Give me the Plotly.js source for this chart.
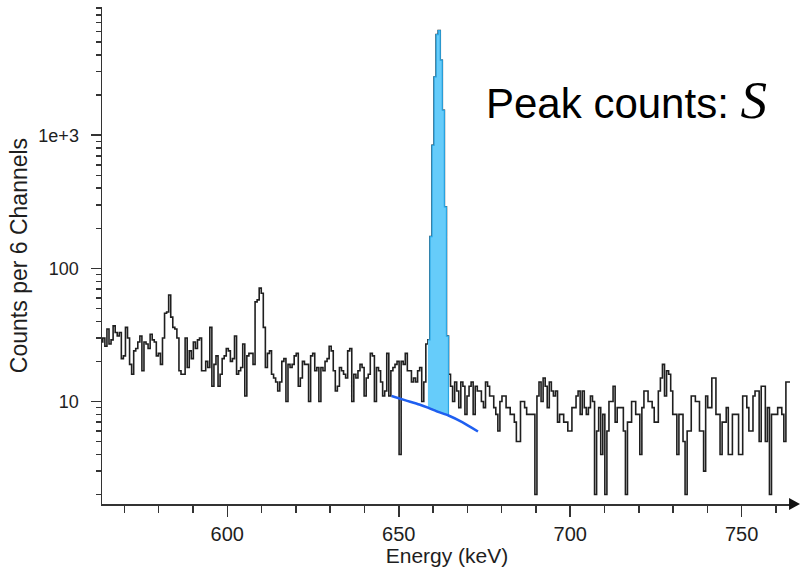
<!DOCTYPE html>
<html>
<head>
<meta charset="utf-8">
<script src="https://cdn.plot.ly/plotly-3.0.1.min.js"></script>
<style>
  html, body { margin: 0; padding: 0; background: #ffffff; }
  #chart { width: 801px; height: 571px; }
</style>
</head>
<body>
<div id="chart"></div>
<script>
// ---- data -------------------------------------------------------------
// histogram: first bin left edge (keV) and bin width (keV)
const binStart = 563.1;
const binWidth = 0.6;
// counts per 6 channels, one value per bin
const counts = [
  28, 30, 26, 35, 27, 29, 37, 33, 31, 33,
  21, 22, 36, 30, 19, 16, 24, 25, 28, 31,
  17, 28, 27, 25, 32, 29, 28, 22, 23, 19,
  30, 46, 47, 63, 43, 36, 35, 30, 17, 16,
  16, 30, 18, 24, 21, 28, 25, 29, 30, 17,
  17, 20, 18, 36, 13, 19, 22, 13, 16, 21,
  22, 25, 24, 20, 21, 31, 16, 17, 18, 27,
  11, 22, 23, 23, 19, 56, 58, 71, 65, 36,
  18, 23, 24, 16, 15, 14, 12, 14, 20, 21,
  10, 19, 18, 19, 22, 23, 13, 15, 20, 19,
  19, 10, 22, 23, 17, 18, 10, 18, 17, 20,
  21, 26, 24, 17, 12, 13, 18, 17, 16, 15,
  24, 25, 10, 16, 15, 17, 19, 18, 11, 15,
  16, 23, 22, 10, 18, 17, 14, 11, 12, 23,
  11, 17, 18, 19, 20, 4, 20, 19, 23, 17,
  17, 14, 15, 14, 17, 18, 10, 14, 27, 29,
  173, 840, 2740, 5700, 6100, 3660, 1540, 290, 31, 16,
  13, 10, 14, 12, 9, 14, 13, 8, 11, 13,
  14, 8, 13, 12, 12, 10, 9, 14, 13, 11,
  11, 9, 8, 6, 10, 11, 11, 9, 9, 8,
  8, 7, 5, 5, 10, 10, 9, 8, 8, 8,
  8, 2, 11, 14, 10, 15, 13, 9, 14, 12,
  11, 12, 7, 8, 8, 7, 7, 6, 6, 9,
  9, 11, 12, 8, 12, 9, 8, 9, 11, 10,
  2, 6, 9, 4, 8, 2, 6, 10, 10, 13,
  7, 9, 9, 9, 6, 2, 7, 7, 10, 10,
  8, 8, 4, 9, 12, 12, 10, 10, 9, 7,
  7, 12, 15, 19, 11, 17, 16, 12, 8, 8,
  4, 8, 8, 5, 2, 6, 6, 11, 11, 10,
  10, 6, 6, 3, 11, 9, 9, 15, 15, 8,
  8, 4, 7, 7, 9, 4, 4, 8, 8, 8,
  4, 4, 11, 11, 9, 6, 6, 11, 12, 12,
  5, 13, 13, 5, 9, 2, 8, 8, 8, 9,
  9, 8, 5, 14, 14
];
// fitted background under the peak
const bgEnergy = [647.9, 652.0, 656.0, 658.5, 661.5, 664.5, 668.5, 673.1];
const bgCounts = [11.0, 10.2, 9.5, 9.0, 8.35, 7.85, 7.0, 5.95];
// peak region (keV)
const peakLo = 658.5;
const peakHi = 664.5;
// ticks
const xTickVals = [600, 650, 700, 750];
const xTickText = ['600', '650', '700', '750'];
const xMinorVals = [570, 580, 590, 610, 620, 630, 640, 660, 670, 680, 690, 710, 720, 730, 740, 760];
const yTickVals = [10, 100, 1000];
const yTickText = ['10', '100', '1e+3'];
const yMinorVals = [2, 3, 4, 5, 6, 7, 8, 9, 20, 30, 40, 50, 60, 70, 80, 90,
                    200, 300, 400, 500, 600, 700, 800, 900, 2000, 3000, 4000, 5000, 6000, 7000, 8000, 9000];
const annotationText = 'Peak counts: ';
const annotationSymbol = 'S';

// ---- build traces -----------------------------------------------------
const edges = [];
for (let i = 0; i <= counts.length; i++) edges.push(+(binStart + i * binWidth).toFixed(4));

const histX = edges.slice();
const histY = counts.concat([counts[counts.length - 1]]);

const eps = 1e-6;
const fillX = [], fillY = [];
for (let i = 0; i < counts.length; i++) {
  if (edges[i] >= peakLo - eps && edges[i + 1] <= peakHi + eps) {
    fillX.push(edges[i], edges[i + 1]);
    fillY.push(counts[i], counts[i]);
  }
}
for (let j = bgEnergy.length - 1; j >= 0; j--) {
  if (bgEnergy[j] >= peakLo - eps && bgEnergy[j] <= peakHi + eps) {
    fillX.push(bgEnergy[j]);
    fillY.push(bgCounts[j]);
  }
}

const AX = '#333333';
const TXT = '#1e1e1e';
const FONT = 'Liberation Sans, Arial, sans-serif';

const traces = [
  {
    x: histX, y: histY, type: 'scatter', mode: 'lines',
    line: { shape: 'hv', color: '#1f1f1f', width: 1.6 },
    hoverinfo: 'skip', showlegend: false
  },
  {
    x: fillX, y: fillY, type: 'scatter', mode: 'lines',
    fill: 'toself', fillcolor: '#66ccfa',
    line: { color: '#2aa6e4', width: 1.2 },
    hoverinfo: 'skip', showlegend: false
  },
  {
    x: bgEnergy, y: bgCounts, type: 'scatter', mode: 'lines',
    line: { color: '#1f5ff0', width: 2.5, shape: 'spline', smoothing: 0.6 },
    hoverinfo: 'skip', showlegend: false
  }
];

const layout = {
  width: 801, height: 571,
  margin: { l: 102, r: 9, t: 7, b: 67 },
  paper_bgcolor: '#ffffff', plot_bgcolor: '#ffffff',
  showlegend: false,
  font: { family: FONT, color: TXT },
  xaxis: {
    range: [563.46, 764.68],
    showline: true, linecolor: AX, linewidth: 1.5,
    showgrid: false, zeroline: false,
    ticks: 'outside', ticklen: 11, tickwidth: 1.5, tickcolor: AX,
    tickmode: 'array', tickvals: xTickVals, ticktext: xTickText,
    minor: { tickmode: 'array', tickvals: xMinorVals, ticks: 'outside', ticklen: 7, tickwidth: 1.5, tickcolor: AX, showgrid: false },
    tickfont: { family: FONT, size: 20, color: TXT },
    title: { text: 'Energy (keV)', font: { family: FONT, size: 21, color: TXT }, standoff: 3 }
  },
  yaxis: {
    type: 'log',
    range: [0.23, 3.963],
    showline: true, linecolor: AX, linewidth: 1.5,
    showgrid: false, zeroline: false,
    ticks: 'outside', ticklen: 10, tickwidth: 1.5, tickcolor: AX,
    tickmode: 'array', tickvals: yTickVals, ticktext: yTickText,
    minor: { tickmode: 'array', tickvals: yMinorVals, ticks: 'outside', ticklen: 5, tickwidth: 1.5, tickcolor: AX, showgrid: false },
    ticklabelstandoff: 8,
    tickfont: { family: FONT, size: 18, color: TXT },
    title: { text: 'Counts per 6 Channels', font: { family: FONT, size: 23, color: TXT }, standoff: 4 }
  },
  shapes: [
    {
      type: 'path', xref: 'paper', yref: 'paper',
      path: 'M 0.9957,0.0121 L 1.0116,0 L 0.9957,-0.0121 Z',
      fillcolor: '#111111', line: { width: 0 }
    }
  ],
  annotations: [
    {
      xref: 'paper', yref: 'paper', x: 0.5536, y: 0.812,
      xanchor: 'left', yanchor: 'middle', showarrow: false,
      text: annotationText + '<span style="font-family:Liberation Serif;font-style:italic;font-size:53px">' + annotationSymbol + '</span>',
      font: { family: FONT, size: 42, color: '#000000' }
    }
  ]
};

Plotly.newPlot('chart', traces, layout, { displayModeBar: false, staticPlot: true });
</script>
</body>
</html>
